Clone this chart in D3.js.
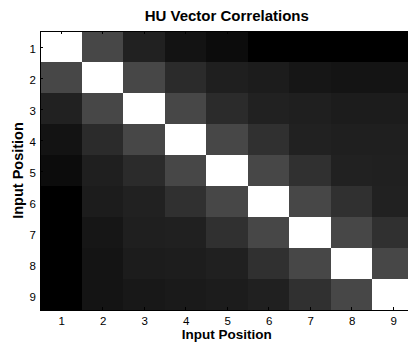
<!DOCTYPE html>
<html>
<head>
<meta charset="utf-8">
<script src="https://cdn.jsdelivr.net/npm/d3@7"></script>
<style>
  html, body { margin: 0; padding: 0; background: #fff; }
  svg { display: block; font-family: "Liberation Sans", Arial, sans-serif; }
</style>
</head>
<body>
<svg id="chart" width="408" height="342"></svg>
<script>
// Input positions along both axes
const positions = [1, 2, 3, 4, 5, 6, 7, 8, 9];
const tickLabels = ["1", "2", "3", "4", "5", "6", "7", "8", "9"];

// Correlation matrix rows (row i = input position i), shown on a gray scale
const row1 = [1.00, 0.28, 0.13, 0.075, 0.047, 0.00, 0.00, 0.00, 0.00];
const row2 = [0.28, 1.00, 0.28, 0.17, 0.12, 0.11, 0.086, 0.078, 0.078];
const row3 = [0.13, 0.28, 1.00, 0.28, 0.17, 0.13, 0.12, 0.11, 0.11];
const row4 = [0.075, 0.17, 0.28, 1.00, 0.28, 0.19, 0.13, 0.12, 0.12];
const row5 = [0.047, 0.12, 0.17, 0.28, 1.00, 0.28, 0.19, 0.13, 0.125];
const row6 = [0.00, 0.11, 0.13, 0.19, 0.28, 1.00, 0.28, 0.19, 0.13];
const row7 = [0.00, 0.086, 0.12, 0.125, 0.19, 0.28, 1.00, 0.28, 0.19];
const row8 = [0.00, 0.078, 0.11, 0.115, 0.125, 0.19, 0.28, 1.00, 0.28];
const row9 = [0.00, 0.078, 0.094, 0.10, 0.11, 0.125, 0.19, 0.28, 1.00];
const matrix = [row1, row2, row3, row4, row5, row6, row7, row8, row9];

const svg = d3.select("#chart");
const margin = { left: 40, top: 31, right: 413.5, bottom: 310 };

const x = d3.scaleBand().domain(positions).range([margin.left, margin.right]).padding(0);
const y = d3.scaleBand().domain(positions).range([margin.top, margin.bottom]).padding(0);
const color = d3.scaleLinear().domain([0, 1]).range(["#000000", "#ffffff"]);

const cells = [];
matrix.forEach((row, i) => row.forEach((v, j) => cells.push({ r: positions[i], c: positions[j], v })));

svg.append("g").selectAll("rect")
  .data(cells)
  .join("rect")
  .attr("x", d => x(d.c))
  .attr("y", d => y(d.r))
  .attr("width", x.bandwidth() + 0.5)
  .attr("height", y.bandwidth() + 0.5)
  .attr("fill", d => color(d.v))
  .attr("shape-rendering", "crispEdges");

// Inward ticks on all sides, box outline
const tickLen = 3;
const tickG = svg.append("g").attr("stroke", "#000").attr("stroke-width", 1);
positions.forEach(p => {
  const cx = Math.round(x(p) + x.bandwidth() / 2) + 0.5;
  const cy = Math.round(y(p) + y.bandwidth() / 2) + 0.5;
  tickG.append("line").attr("x1", cx).attr("x2", cx).attr("y1", margin.bottom).attr("y2", margin.bottom - tickLen);
  tickG.append("line").attr("x1", cx).attr("x2", cx).attr("y1", margin.top).attr("y2", margin.top + tickLen);
  tickG.append("line").attr("x1", margin.left).attr("x2", margin.left + tickLen).attr("y1", cy).attr("y2", cy);
});

svg.append("rect")
  .attr("x", margin.left + 0.5).attr("y", margin.top + 0.5)
  .attr("width", margin.right - margin.left).attr("height", margin.bottom - margin.top)
  .attr("fill", "none").attr("stroke", "#000").attr("stroke-width", 1);

// Tick labels
svg.append("g").selectAll("text")
  .data(positions)
  .join("text")
  .attr("x", d => x(d) + x.bandwidth() / 2 + 1)
  .attr("y", 325)
  .attr("text-anchor", "middle")
  .attr("font-size", 11.5)
  .attr("fill", "#000")
  .text((d, i) => tickLabels[i]);

svg.append("g").selectAll("text")
  .data(positions)
  .join("text")
  .attr("x", 36)
  .attr("y", d => y(d) + y.bandwidth() / 2 + 6.5)
  .attr("text-anchor", "end")
  .attr("font-size", 11.5)
  .attr("fill", "#000")
  .text((d, i) => tickLabels[i]);

// Title and axis titles
svg.append("text")
  .attr("x", (margin.left + margin.right) / 2)
  .attr("y", 21)
  .attr("text-anchor", "middle")
  .attr("font-size", 15)
  .attr("font-weight", "bold")
  .text("HU Vector Correlations");

svg.append("text")
  .attr("x", (margin.left + margin.right) / 2)
  .attr("y", 339)
  .attr("text-anchor", "middle")
  .attr("font-size", 13.5)
  .attr("font-weight", "bold")
  .text("Input Position");

svg.append("text")
  .attr("transform", `translate(23, ${(margin.top + margin.bottom) / 2}) rotate(-90)`)
  .attr("text-anchor", "middle")
  .attr("font-size", 14.5)
  .attr("font-weight", "bold")
  .text("Input Position");
</script>
</body>
</html>
